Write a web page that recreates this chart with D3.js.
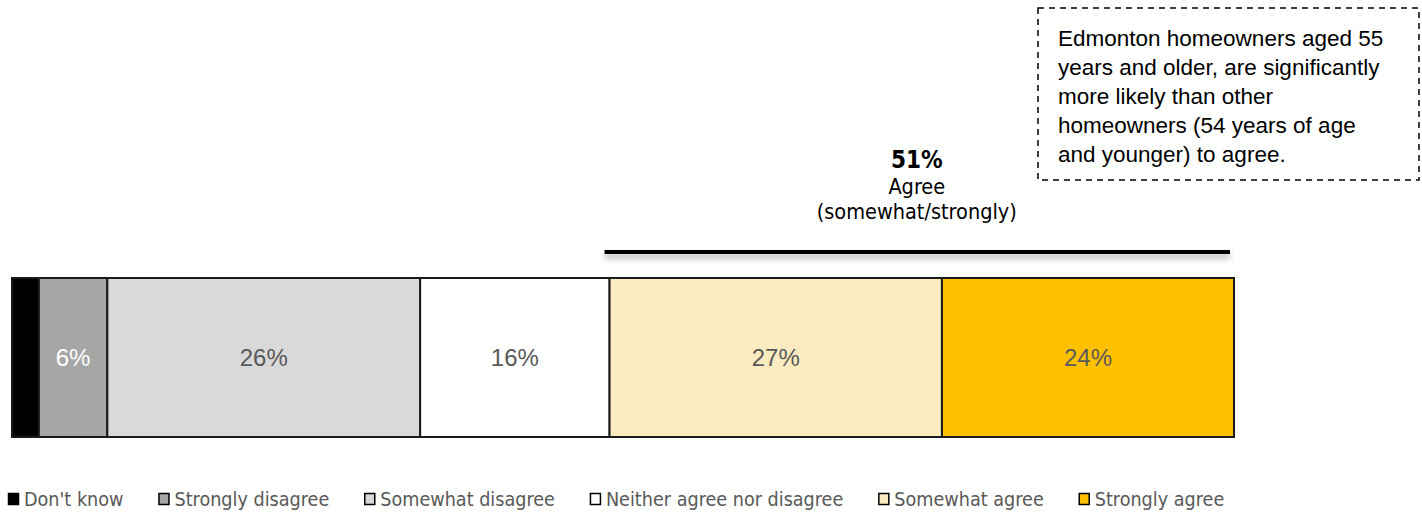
<!DOCTYPE html>
<html><head><meta charset="utf-8">
<script src="https://cdn.jsdelivr.net/npm/d3@7"></script>
<style>
html,body{margin:0;padding:0;background:#fff;}
svg{display:block;}
</style></head>
<body>
<svg id="chart" width="1422" height="512"></svg>
<script>
const categories = ["Don't know","Strongly disagree","Somewhat disagree","Neither agree nor disagree","Somewhat agree","Strongly agree"];
const values = [2.2, 5.6, 25.6, 15.5, 27.2, 23.9];
const valueLabels = ["", "6%", "26%", "16%", "27%", "24%"];
const colors = ["#000000","#a6a6a6","#d9d9d9","#ffffff","#faebc1","#ffc000"];
const labelColors = ["#ffffff","#ffffff","#595959","#595959","#595959","#595959"];
const netValue = "51%";
const netLabel = ["Agree","(somewhat/strongly)"];
const noteLines = ["Edmonton homeowners aged 55","years and older, are significantly","more likely than other","homeowners (54 years of age","and younger) to agree."];

const svg = d3.select("#chart");
const condensed = "'Liberation Sans Narrow','DejaVu Sans Condensed','Roboto',sans-serif";
const sans = "'Liberation Sans','Arial',sans-serif";

const total = d3.sum(values);
const x = d3.scaleLinear().domain([0,total]).range([12,1234]);
const barTop = 278, barH = 159;

let cum = 0;
const segs = values.map((v,i)=>{const s={i,v,x0:cum,x1:cum+v}; cum+=v; return s;});

const g = svg.append("g");
g.selectAll("rect.seg").data(segs).join("rect")
  .attr("class","seg")
  .attr("x",d=>x(d.x0)).attr("y",barTop)
  .attr("width",d=>x(d.x1)-x(d.x0)).attr("height",barH)
  .attr("fill",d=>colors[d.i]).attr("stroke","#1a1a1a").attr("stroke-width",2);

g.selectAll("text.lab").data(segs).join("text")
  .attr("class","lab")
  .attr("x",d=>(x(d.x0)+x(d.x1))/2).attr("y",barTop+barH/2)
  .attr("dy","0.35em").attr("text-anchor","middle")
  .attr("font-family",sans).attr("font-size",24)
  .attr("fill",d=>labelColors[d.i])
  .text(d=>valueLabels[d.i]);

// bracket for agree
const defs = svg.append("defs");
const f = defs.append("filter").attr("id","sh").attr("filterUnits","userSpaceOnUse")
  .attr("x",580).attr("y",235).attr("width",680).attr("height",40);
f.append("feDropShadow").attr("dx",0).attr("dy",4).attr("stdDeviation",3).attr("flood-color","#000").attr("flood-opacity",0.35);

const agreeStart = segs[4].x0, agreeEnd = segs[5].x1;
svg.append("rect")
  .attr("x",x(agreeStart)-5).attr("width",x(agreeEnd)-x(agreeStart)+1)
  .attr("y",250).attr("height",4)
  .attr("fill","#000")
  .attr("filter","url(#sh)");

const cx = (x(agreeStart)+x(agreeEnd))/2 - 5;
svg.append("text").attr("x",cx).attr("y",168).attr("text-anchor","middle")
  .attr("font-family",condensed).attr("font-weight","bold").attr("font-size",24).attr("fill","#000")
  .text(netValue);
netLabel.forEach((t,i)=>{
  svg.append("text").attr("x",cx).attr("y",194+i*25).attr("text-anchor","middle")
    .attr("font-family",condensed).attr("font-size",21.5).attr("fill","#000").text(t);
});

// note box
svg.append("rect").attr("x",1038).attr("y",8).attr("width",381).attr("height",172)
  .attr("fill","#fff").attr("stroke","#000").attr("stroke-width",1.5).attr("stroke-dasharray","6,5");
noteLines.forEach((t,i)=>{
  svg.append("text").attr("x",1058).attr("y",46+i*29)
    .attr("font-family",sans).attr("font-size",22.5).attr("fill","#000").text(t);
});

// legend
const lg = svg.append("g");
let lx = 8;
categories.forEach((c,i)=>{
  lg.append("rect").attr("x",lx+0.5).attr("y",493.5).attr("width",10).attr("height",11)
    .attr("fill",colors[i]).attr("stroke","#000").attr("stroke-width",1.5);
  const t = lg.append("text").attr("x",lx+16).attr("y",506)
    .attr("font-family",condensed).attr("font-size",19.6).attr("fill","#595959").text(c);
  lx = lx + 16 + t.node().getComputedTextLength() + 35;
});
</script>
</body></html>
